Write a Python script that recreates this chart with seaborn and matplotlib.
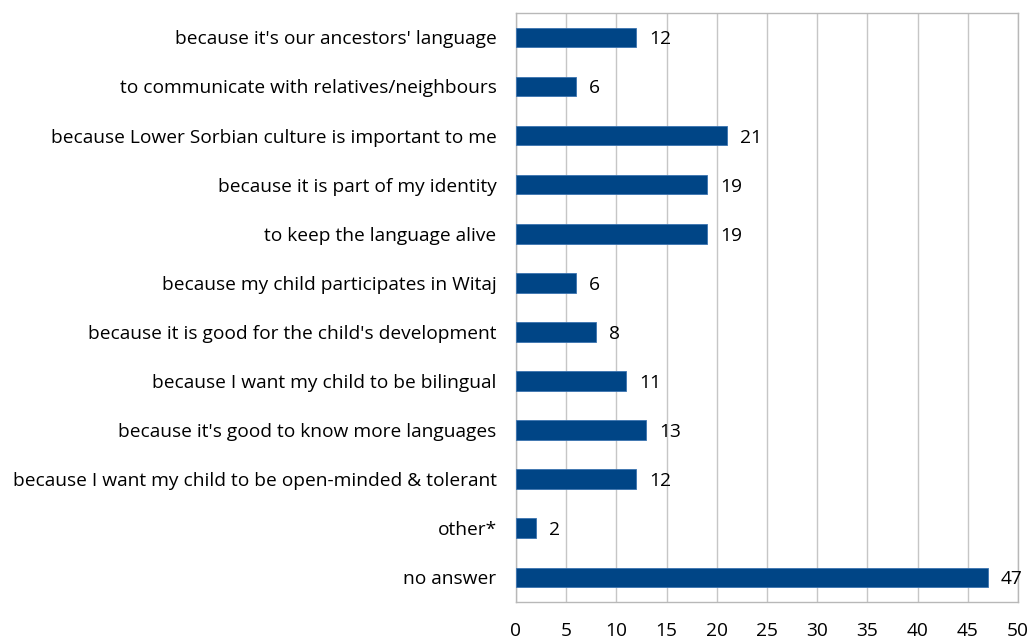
import matplotlib
matplotlib.use("Agg")
import matplotlib.pyplot as plt
import seaborn as sns
import pandas as pd

categories = [
    "because it's our ancestors' language",
    "to communicate with relatives/neighbours",
    "because Lower Sorbian culture is important to me",
    "because it is part of my identity",
    "to keep the language alive",
    "because my child participates in Witaj",
    "because it is good for the child's development",
    "because I want my child to be bilingual",
    "because it's good to know more languages",
    "because I want my child to be open-minded & tolerant",
    "other*",
    "no answer",
]
counts = [12, 6, 21, 19, 19, 6, 8, 11, 13, 12, 2, 47]
x_ticks = [0, 5, 10, 15, 20, 25, 30, 35, 40, 45, 50]

df = pd.DataFrame({"reason": categories, "count": counts})

sns.set_theme(style="white")
plt.rcParams["font.family"] = ["Open Sans", "DejaVu Sans"]

FS = 13.8

fig = plt.figure(figsize=(10.34, 6.39), dpi=100)
ax = fig.add_axes([0.499, 0.058, 0.4855, 0.922])

sns.barplot(data=df, x="count", y="reason", orient="h", color="#004586",
            width=0.4, saturation=1, edgecolor="#3a73b0", linewidth=0.6,
            ax=ax, zorder=3)

ax.set_xlim(0, 50)
ax.set_xticks(x_ticks)
ax.set_xlabel("")
ax.set_ylabel("")
ax.grid(axis="x", color="#c6c6c6", linewidth=1.0, zorder=0)
ax.grid(axis="y", visible=False)
for sp in ax.spines.values():
    sp.set_color("#b8b8b8")
    sp.set_linewidth(1.0)
ax.tick_params(axis="y", length=0, pad=14, labelsize=FS, colors="#000000")
ax.tick_params(axis="x", length=0, pad=14.5, labelsize=FS, colors="#000000")
for lab in ax.get_yticklabels():
    lab.set_verticalalignment("center_baseline")

for i, v in enumerate(counts):
    ax.text(v + 1.3, i, str(v), va="center_baseline", ha="left", fontsize=FS,
            color="#000000")

fig.savefig("out.png", dpi=100)
